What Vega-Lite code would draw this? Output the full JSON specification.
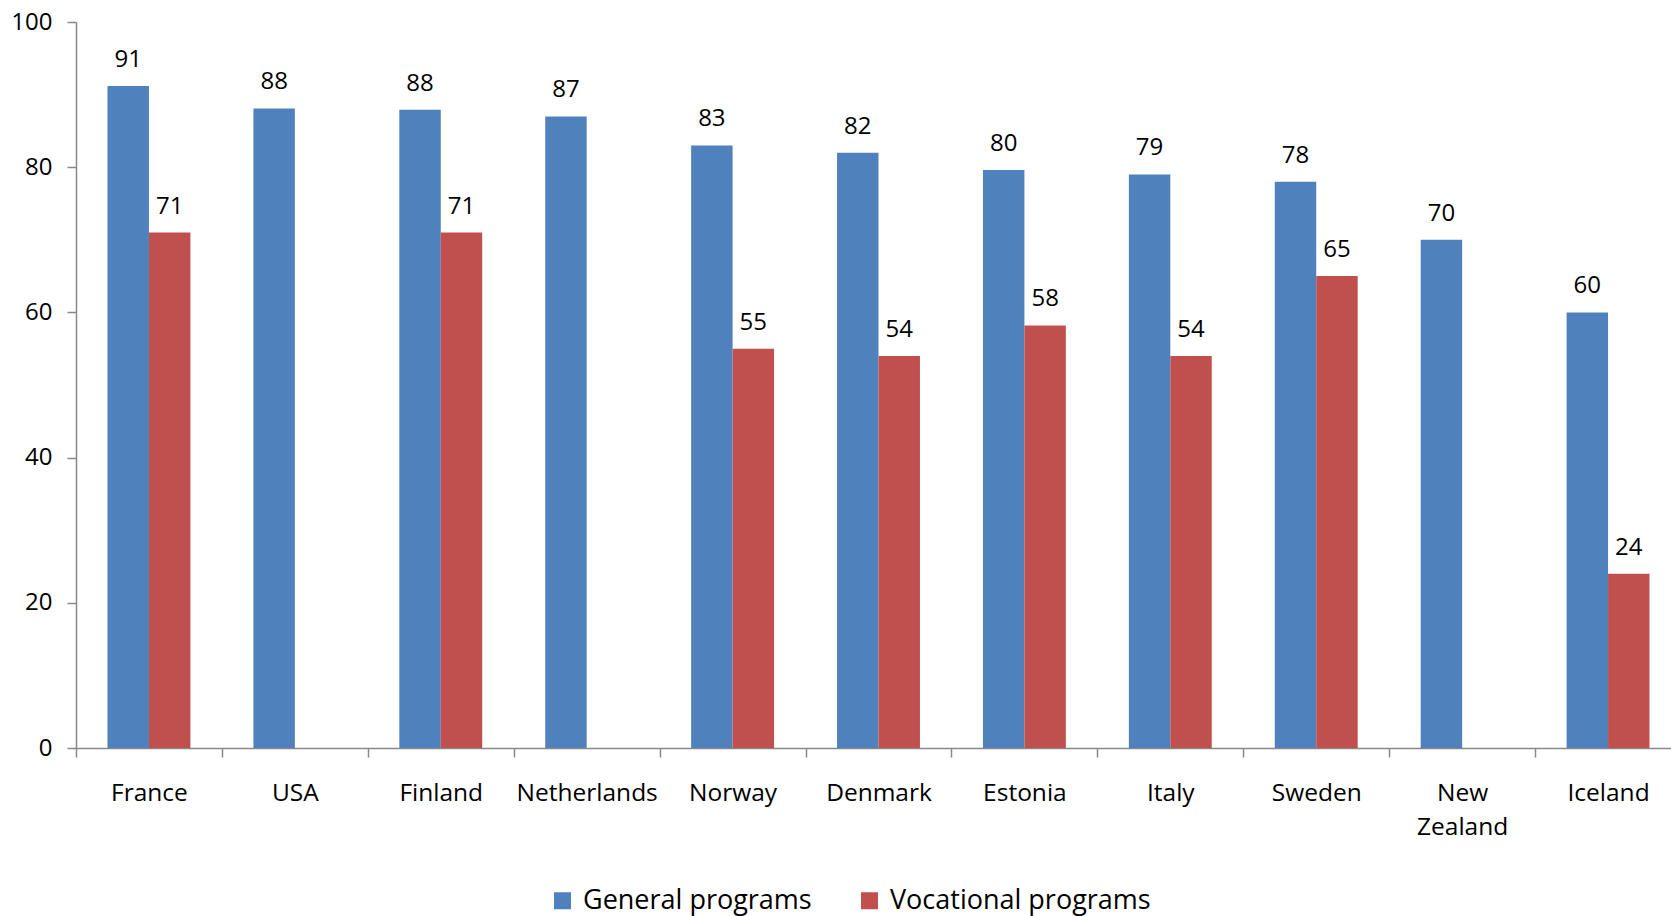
{
  "$schema": "https://vega.github.io/schema/vega-lite/v6.json",
  "width": 1595,
  "height": 726,
  "autosize": "none",
  "padding": {"left": 76, "top": 22, "right": 0, "bottom": 168},
  "background": "white",
  "config": {"view": {"stroke": null}, "font": "Open Sans"},
  "data": {
    "values": [
      {"country": "France", "program": "General programs", "value": 91.2},
      {"country": "France", "program": "Vocational programs", "value": 71},
      {"country": "USA", "program": "General programs", "value": 88.1},
      {"country": "Finland", "program": "General programs", "value": 87.9},
      {"country": "Finland", "program": "Vocational programs", "value": 71},
      {"country": "Netherlands", "program": "General programs", "value": 87},
      {"country": "Norway", "program": "General programs", "value": 83},
      {"country": "Norway", "program": "Vocational programs", "value": 55},
      {"country": "Denmark", "program": "General programs", "value": 82},
      {"country": "Denmark", "program": "Vocational programs", "value": 54},
      {"country": "Estonia", "program": "General programs", "value": 79.6},
      {"country": "Estonia", "program": "Vocational programs", "value": 58.2},
      {"country": "Italy", "program": "General programs", "value": 79},
      {"country": "Italy", "program": "Vocational programs", "value": 54},
      {"country": "Sweden", "program": "General programs", "value": 78},
      {"country": "Sweden", "program": "Vocational programs", "value": 65},
      {"country": "New Zealand", "program": "General programs", "value": 70},
      {"country": "Iceland", "program": "General programs", "value": 60},
      {"country": "Iceland", "program": "Vocational programs", "value": 24}
    ]
  },
  "encoding": {
    "x": {
      "field": "country",
      "type": "nominal",
      "sort": ["France", "USA", "Finland", "Netherlands", "Norway", "Denmark", "Estonia", "Italy", "Sweden", "New Zealand", "Iceland"],
      "scale": {"range": [0, 1605], "paddingInner": 0, "paddingOuter": 0},
      "axis": {
        "title": null,
        "tickBand": "extent",
        "labelAngle": 0,
        "labelFontSize": 24.5,
        "labelColor": "black",
        "labelBaseline": "top",
        "labelPadding": 24,
        "labelLineHeight": 34,
        "tickSize": 9,
        "tickWidth": 1.5,
        "tickColor": "#898989",
        "domainColor": "#898989",
        "domainWidth": 1.5,
        "labelExpr": "datum.label == 'New Zealand' ? ['New', 'Zealand'] : datum.label"
      }
    },
    "xOffset": {
      "field": "program",
      "type": "nominal",
      "scale": {"domain": ["General programs", "Vocational programs"], "paddingInner": 0, "paddingOuter": 0.76}
    },
    "y": {
      "field": "value",
      "type": "quantitative",
      "scale": {"domain": [0, 100], "nice": false},
      "axis": {
        "title": null,
        "values": [0, 20, 40, 60, 80, 100],
        "grid": false,
        "labelFontSize": 24,
        "labelColor": "black",
        "labelPadding": 15,
        "tickSize": 9,
        "tickWidth": 1.5,
        "tickColor": "#898989",
        "domainColor": "#898989",
        "domainWidth": 1.5
      }
    }
  },
  "layer": [
    {
      "mark": {"type": "bar"},
      "encoding": {
        "color": {
          "field": "program",
          "type": "nominal",
          "scale": {"domain": ["General programs", "Vocational programs"], "range": ["#4F81BD", "#C0504D"]},
          "legend": {
            "title": null,
            "orient": "none",
            "direction": "horizontal",
            "legendX": 473,
            "legendY": 865,
            "symbolType": "square",
            "symbolSize": 289,
            "symbolStrokeWidth": 0,
            "labelFontSize": 27,
            "labelLimit": 0,
            "labelColor": "black",
            "labelOffset": 7,
            "columnPadding": 44
          }
        }
      }
    },
    {
      "mark": {"type": "text", "dy": -19, "baseline": "alphabetic", "fontSize": 24, "color": "black"},
      "encoding": {"text": {"field": "value", "type": "quantitative", "format": ".0f"}}
    }
  ]
}
